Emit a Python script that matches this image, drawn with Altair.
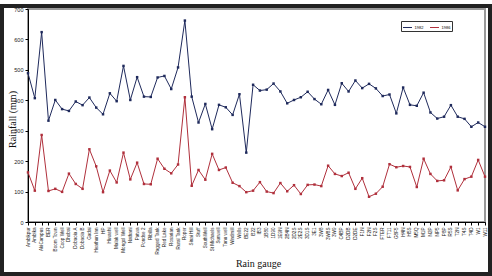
import altair as alt
import pandas as pd

gauges = [
    "Ambikpur", "Ambika", "AkiCampus", "BER", "Boom Town", "Coop Well", "Dhobai", "Dobaoia A",
    "Dobaoia B", "Gadai", "Heathun Inn", "HP", "Hiwashi", "Malak well", "Mongol Well", "Nathani",
    "Patwa", "Pondse 2", "Ribilla", "Ragged Tank", "Red Lake", "Rosarian", "Rural Tank", "Roper",
    "Sinai Hill", "Stuff", "SouthWell", "St Michaels", "Sunwell", "Tanu well", "Windmill", "Wells",
    "BE22", "B22", "IB3", "1B80", "1D90", "1E9N", "2B4N", "2D2S", "2E2S", "3D1S", "3E1", "3W8",
    "3W8S", "3W9", "C4BP", "D2DB", "D2DE", "F1N", "F2N", "F2S", "FTER", "FT11", "G8F5", "H4N",
    "H5S", "M5Q", "M1P", "N2P", "NP5", "P8P", "R5S", "T2N", "T4S", "T4D", "W1", "W11",
]

series_a = [
    489, 407, 624, 333, 401, 371, 365, 396, 384, 409, 376, 354, 423, 397, 513, 401,
    476, 412, 411, 475, 480, 437, 508, 662, 412, 327, 388, 305, 385, 377, 352, 420,
    228, 451, 432, 435, 455, 429, 390, 401, 410, 428, 404, 387, 434, 385, 456, 429,
    465, 440, 454, 439, 414, 419, 357, 442, 385, 382, 425, 360, 340, 346, 384, 346,
    339, 313, 327, 313,
]

series_b = [
    163, 103, 286, 102, 109, 99, 159, 125, 109, 239, 183, 98, 169, 130, 228, 140,
    195, 125, 124, 208, 175, 160, 189, 410, 119, 171, 139, 224, 171, 179, 129, 118,
    98, 103, 131, 100, 95, 128, 101, 121, 92, 122, 123, 118, 185, 158, 151, 162,
    109, 144, 83, 93, 116, 190, 180, 184, 181, 115, 208, 158, 135, 137, 181, 104,
    141, 149, 204, 149,
]

series_names = ["1982", "1986"]
colors = ["#1f2a5c", "#b0303c"]

rows = []
for g, a, b in zip(gauges, series_a, series_b):
    rows.append({"gauge": g, "series": series_names[0], "rain": a})
    rows.append({"gauge": g, "series": series_names[1], "rain": b})
df = pd.DataFrame(rows)

W, H = 457, 213

lines = alt.Chart(df).mark_line(
    strokeWidth=1,
    point=alt.OverlayMarkDef(size=6, filled=True, shape="square"),
).encode(
    x=alt.X(
        "gauge:N",
        sort=gauges,
        scale=alt.Scale(type="point", padding=0),
        axis=alt.Axis(
            title="Rain gauge",
            labelAngle=-90,
            labelFontSize=4.6,
            labelFont="Liberation Sans",
            labelColor="#222",
            labelPadding=2,
            labelLimit=28,
            tickSize=3,
            tickColor="#000",
            domainColor="#000",
            titleFont="Liberation Serif",
            titleFontSize=10,
            titleFontWeight="normal",
            titleColor="#111",
            titleY=41,
            titleX=230,
            titleBaseline="middle",
            labelOverlap=False,
        ),
    ),
    y=alt.Y(
        "rain:Q",
        scale=alt.Scale(domain=[0, 700], nice=False),
        axis=alt.Axis(
            title="Rainfall (mm)",
            values=[0, 100, 200, 300, 400, 500, 600, 700],
            labelFontSize=5.5,
            labelFont="Liberation Sans",
            labelColor="#222",
            tickSize=3,
            tickColor="#000",
            domainColor="#000",
            grid=False,
            titleFont="Liberation Serif",
            titleFontSize=10,
            titleFontWeight="normal",
            titleColor="#111",
            titleX=-16,
            titleY=110,
            titleBaseline="middle",
        ),
    ),
    color=alt.Color(
        "series:N",
        sort=series_names,
        scale=alt.Scale(domain=series_names, range=colors),
        legend=alt.Legend(
            title=None,
            orient="none",
            legendX=373,
            legendY=12,
            direction="horizontal",
            labelFontSize=4,
            labelFont="Liberation Sans",
            symbolType="stroke",
            symbolSize=80,
            symbolStrokeWidth=1,
            strokeColor="#333",
            padding=1.5,
            columnPadding=4,
            labelOffset=2,
        ),
    ),
)

frame_df = pd.DataFrame({"k": [0]})
frame = alt.Chart(frame_df).mark_rect(
    fill=None, stroke="#222", strokeWidth=4
).encode(
    x=alt.value(-26), x2=alt.value(462), y=alt.value(-3), y2=alt.value(265)
)

chart = alt.layer(lines, frame).properties(
    width=W,
    height=H,
    autosize=alt.AutoSizeParams(type="none"),
    padding={"left": 28, "top": 9, "right": 7, "bottom": 54},
    background="white",
).configure_view(
    stroke="#9a9a9a", strokeWidth=2
).configure_axis(
    domainWidth=1
)

chart.save("out.html", embed_options={"renderer": "svg", "actions": False})
